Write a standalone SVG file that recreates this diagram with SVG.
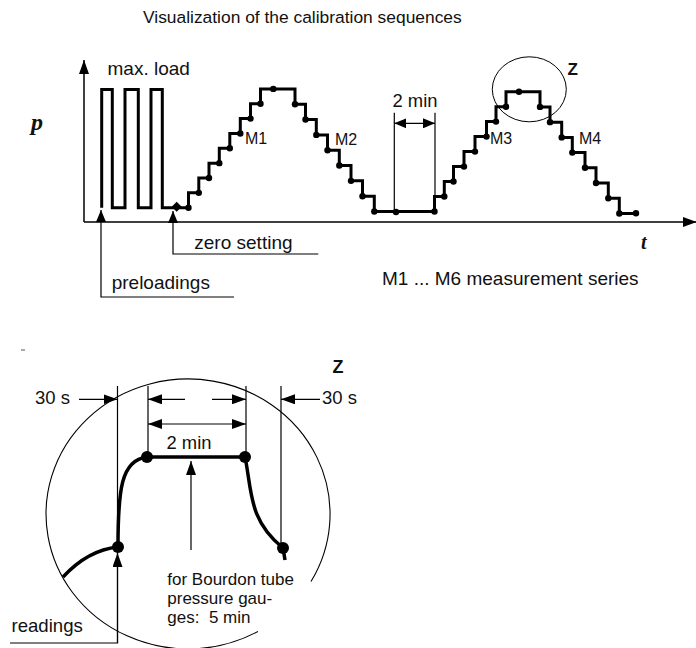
<svg xmlns="http://www.w3.org/2000/svg" width="696" height="648" viewBox="0 0 696 648">
<defs>
<marker id="ah" viewBox="0 0 14 10" refX="14" refY="5" markerWidth="14" markerHeight="10" markerUnits="userSpaceOnUse" orient="auto-start-reverse"><path d="M0,0 L14,5 L0,10 z" fill="#000"/></marker>
<marker id="ahs" viewBox="0 0 12 10" refX="12" refY="5" markerWidth="12" markerHeight="10" markerUnits="userSpaceOnUse" orient="auto-start-reverse"><path d="M0,0 L12,5 L0,10 z" fill="#000"/></marker>
</defs>
<style>
text{font-family:"Liberation Sans",Arial,Helvetica,sans-serif;fill:#111}
.lbl{font-size:19px}
.m{font-size:16px}
.z{font-size:17px;font-weight:bold}
.var{font-family:"Liberation Serif","Times New Roman",serif;font-style:italic;font-weight:bold}
.thin{stroke:#000;stroke-width:1.2;fill:none}
.axis{stroke:#000;stroke-width:1.5;fill:none}
.stair{stroke:#000;stroke-width:3;fill:none;stroke-linejoin:miter}
.thick{stroke:#000;stroke-width:3.5;fill:none}
.dot{fill:#000}
</style>
<rect width="696" height="648" fill="#fff"/>

<g id="title"><text x="143" y="23" style="font-size:17.4px">Visualization of the calibration sequences</text></g>

<g id="axes">
<line class="axis" x1="84" y1="222" x2="84" y2="60" marker-end="url(#ah)"/>
<line class="axis" x1="84" y1="222" x2="697" y2="222" marker-end="url(#ah)"/>
<text class="var" x="31" y="130" style="font-size:24px">p</text>
<text class="var" x="641" y="249" style="font-size:20px">t</text>
</g>

<g id="sequence">
<path class="stair" d="M101.7,207.7 V89.5 H112.3 V207.7 H125 V89.5 H138.3 V207.7 H151 V89.5 H162.3 V207.7 H188.5 V192.85 H198.8 V178 H209 V163.15 H219.3 V148.3 H229.8 V133.45 H240.3 V118.6 H250.5 V103.75 H260.5 V88.9 H295 V104.2 H305.5 V119.55 H316.3 V134.9 H327.5 V150.2 H339.3 V165.5 H351 V180.85 H362.5 V196.2 H374.3 V211.5 H434.5 V196.5 H444.3 V181.5 H453.5 V166.6 H464 V151.6 H475 V136.6 H486.5 V121.6 H496 V106.7 H506 V91.7 H540 V106.9 H550 V122.15 H561.7 V137.4 H572.3 V152.6 H585 V167.8 H596 V183.05 H608.3 V198.3 H619.3 V213.5 H636"/>
<polygon class="dot" points="176.7,201.7 181.7,206.7 176.7,211.7 171.7,206.7"/>
<g class="dot">
<circle cx="188.5" cy="207.7" r="3.2"/><circle cx="198.8" cy="192.85" r="3.2"/><circle cx="209" cy="178" r="3.2"/><circle cx="219.3" cy="163.15" r="3.2"/><circle cx="229.8" cy="148.3" r="3.2"/><circle cx="240.3" cy="133.45" r="3.2"/><circle cx="250.5" cy="118.6" r="3.2"/><circle cx="260.5" cy="103.75" r="3.2"/>
<circle cx="273.3" cy="88.9" r="3.2"/>
<circle cx="295" cy="104.2" r="3.2"/><circle cx="305.5" cy="119.55" r="3.2"/><circle cx="316.3" cy="134.9" r="3.2"/><circle cx="327.5" cy="150.2" r="3.2"/><circle cx="339.3" cy="165.5" r="3.2"/><circle cx="351" cy="180.85" r="3.2"/><circle cx="362.5" cy="196.2" r="3.2"/><circle cx="374.3" cy="211.5" r="3.2"/>
<circle cx="396" cy="212" r="3.2"/><circle cx="434.5" cy="211.5" r="3.2"/>
<circle cx="444.3" cy="196.5" r="3.2"/><circle cx="453.5" cy="181.5" r="3.2"/><circle cx="464" cy="166.6" r="3.2"/><circle cx="475" cy="151.6" r="3.2"/><circle cx="486.5" cy="136.6" r="3.2"/><circle cx="496" cy="121.6" r="3.2"/><circle cx="506" cy="106.7" r="3.2"/>
<circle cx="519" cy="91.7" r="3.2"/>
<circle cx="540" cy="106.9" r="3.2"/><circle cx="550" cy="122.15" r="3.2"/><circle cx="561.7" cy="137.4" r="3.2"/><circle cx="572.3" cy="152.6" r="3.2"/><circle cx="585" cy="167.8" r="3.2"/><circle cx="596" cy="183.05" r="3.2"/><circle cx="608.3" cy="198.3" r="3.2"/><circle cx="619.3" cy="213.5" r="3.2"/>
<circle cx="636" cy="213.2" r="3.2"/>
</g>
<text class="lbl" x="107.5" y="75">max. load</text>
<text class="m" x="245" y="144">M1</text>
<text class="m" x="335" y="145">M2</text>
<text class="m" x="490" y="144">M3</text>
<text class="m" x="579" y="144">M4</text>
</g>

<g id="two-min">
<line class="thin" x1="394.3" y1="112.7" x2="394.3" y2="211.5"/>
<line class="thin" x1="435" y1="112.7" x2="435" y2="211.5"/>
<line class="thin" x1="394.3" y1="123.3" x2="435" y2="123.3" marker-start="url(#ahs)" marker-end="url(#ahs)"/>
<text class="lbl" x="415" y="107" text-anchor="middle" style="font-size:18.4px">2 min</text>
</g>

<g id="z-mark">
<ellipse class="thin" cx="529.3" cy="89.3" rx="37" ry="32.5" style="stroke-width:1"/>
<text class="z" x="567.5" y="75">Z</text>
</g>

<g id="callouts">
<polyline class="thin" points="234,297 101,297 101,210" marker-end="url(#ahs)"/>
<text class="lbl" x="111.7" y="289">preloadings</text>
<polyline class="thin" points="318.3,254 173,254 173,211" marker-end="url(#ahs)"/>
<text class="lbl" x="194.3" y="249">zero setting</text>
<text class="lbl" x="382" y="285">M1 ... M6 measurement series</text>
</g>

<g id="detail">
<line x1="21" y1="350" x2="25" y2="350" stroke="#555" stroke-width="1"/>
<text class="z" x="332.5" y="373" style="font-size:18px">Z</text>
<path class="thin" d="M257.9,631.5 A142,135 0 1 1 311,581.5" style="stroke-width:1.1"/>
<line class="thin" x1="117.5" y1="386" x2="117.5" y2="643"/>
<line class="thin" x1="148" y1="386" x2="148" y2="457"/>
<line class="thin" x1="246" y1="386" x2="246" y2="457"/>
<line class="thin" x1="281" y1="386" x2="281" y2="546"/>
<line class="thin" x1="79" y1="399.3" x2="117.5" y2="399.3" marker-end="url(#ah)"/>
<line class="thin" x1="320" y1="399.3" x2="281" y2="399.3" marker-end="url(#ah)"/>
<line class="thin" x1="185" y1="399.3" x2="148" y2="399.3" marker-end="url(#ah)"/>
<line class="thin" x1="212" y1="399.3" x2="246" y2="399.3" marker-end="url(#ah)"/>
<line class="thin" x1="148" y1="424" x2="246" y2="424" marker-start="url(#ah)" marker-end="url(#ah)"/>
<text class="lbl" x="35" y="403.5" style="font-size:18.5px">30 s</text>
<text class="lbl" x="322" y="403.5" style="font-size:18.5px">30 s</text>
<text class="lbl" x="189" y="448.5" text-anchor="middle" style="font-size:18.4px">2 min</text>
<path class="thick" d="M63,577 Q88,550 118,547"/>
<path class="thick" d="M118,547 C118,490 121,460 147,457 H245 C252,490 248,520 283,548 L285,560"/>
<g class="dot">
<circle cx="147" cy="457" r="6"/><circle cx="245" cy="457" r="6"/><circle cx="118" cy="547" r="6"/><circle cx="283" cy="548" r="6"/>
</g>
<line class="thin" x1="191" y1="550" x2="191" y2="461" marker-end="url(#ah)"/>
<polyline class="thin" points="10,643 117.5,643 117.5,553" marker-end="url(#ah)"/>
<text class="lbl" x="11.5" y="632" style="font-size:18.6px">readings</text>
<text x="167.3" y="585" style="font-size:17px">for Bourdon tube</text>
<text x="167.3" y="604" style="font-size:17px">pressure gau-</text>
<text x="167.3" y="623" style="font-size:17px;white-space:pre">ges:  5 min</text>
</g>
</svg>
